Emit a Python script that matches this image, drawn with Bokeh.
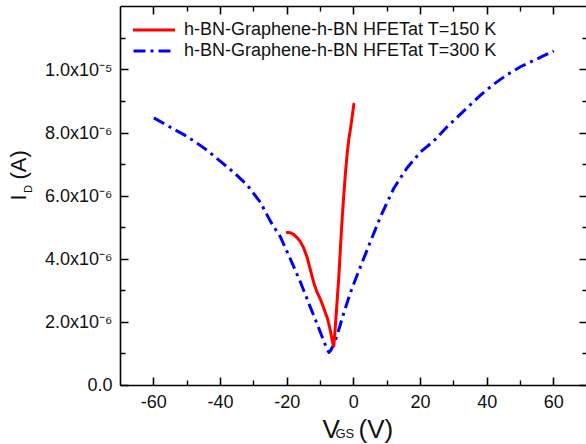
import math
from bokeh.plotting import figure
from bokeh.models import (Range1d, FixedTicker, LinearAxis, Legend, LegendItem,
                          Label, ColumnDataSource)
from bokeh.embed import file_html
from bokeh.resources import INLINE

# ---- data (V_GS in volts, I_D in units of 1e-6 A) ----
vgs_150 = [-20, -19, -18, -17, -16, -15, -14, -13, -12, -11, -10, -9, -8, -7.5,
           -7, -6.6, -6.3, -6.0, -5.5, -5.0, -4.5, -4.0, -3.5, -3.0, -2.5,
           -2.0, -1.5, -1.0, -0.5, 0.0]
id_150 = [4.85, 4.84, 4.78, 4.68, 4.55, 4.35, 4.06, 3.65, 3.25, 2.95, 2.72,
          2.45, 2.15, 1.95, 1.72, 1.5, 1.33, 1.25, 1.95, 2.7, 3.45, 4.4, 5.3,
          6.05, 6.75, 7.35, 7.8, 8.14, 8.52, 8.91]

vgs_300 = [-60, -57, -54, -51, -48, -44, -40, -36, -32, -28, -25, -22, -19,
           -16, -13.5, -11, -9, -8, -7.5, -7, -6, -5, -3, -1, 1, 4, 8, 12,
           16, 20, 24, 28, 33, 38, 42, 46, 50, 54, 57, 60]
id_300 = [8.48, 8.3, 8.12, 7.95, 7.75, 7.45, 7.1, 6.75, 6.35, 5.8, 5.2, 4.7,
          4.0, 3.27, 2.6, 1.95, 1.4, 1.15, 1.05, 1.1, 1.3, 1.6, 2.3, 2.95,
          3.5, 4.3, 5.35, 6.25, 6.9, 7.4, 7.75, 8.2, 8.7, 9.2, 9.55, 9.85,
          10.1, 10.3, 10.45, 10.6]

scale = 1e-6

x_ticks = [-60, -40, -20, 0, 20, 40, 60]
x_tick_labels = ["-60", "-40", "-20", "0", "20", "40", "60"]
x_bounds = [-70, 70]
y_ticks = [0.0, 2e-6, 4e-6, 6e-6, 8e-6, 1e-5]
y_bounds = [0.0, 1.2e-5]
y_tick_labels = ["0.0", "2.0x10\u207b\u2076", "4.0x10\u207b\u2076",
                 "6.0x10\u207b\u2076", "8.0x10\u207b\u2076", "1.0x10\u207b\u2075"]

legend_labels = ["h-BN-Graphene-h-BN HFETat T=150 K",
                 "h-BN-Graphene-h-BN HFETat T=300 K"]

FONT = "Liberation Sans"
TXT = "#111111"
W, H = 586, 444

x_minor = [(a + b) / 2 for a, b in zip(x_ticks[:-1], x_ticks[1:])]
y_step = y_ticks[1] - y_ticks[0]
y_minor = [(a + b) / 2 for a, b in zip(y_ticks[:-1], y_ticks[1:])] + [y_ticks[-1] + y_step / 2]

# frame covers the whole canvas; axes are drawn at fixed locations inside it
p = figure(width=W, height=H, output_backend="svg", toolbar_location=None,
           x_range=Range1d(-106.0, 69.8), y_range=Range1d(-1.87e-6, 1.220e-5),
           min_border=0)
p.xgrid.visible = False
p.ygrid.visible = False
p.outline_line_color = None
p.background_fill_color = "white"
p.border_fill_color = "white"

src150 = ColumnDataSource(dict(x=vgs_150, y=[v * scale for v in id_150]))
src300 = ColumnDataSource(dict(x=vgs_300, y=[v * scale for v in id_300]))

r300 = p.line("x", "y", source=src300, line_color="#0000ff", line_width=3,
              line_dash="12 5 3 5", line_join="round")
r150 = p.line("x", "y", source=src150, line_color="#ff0000", line_width=3,
              line_join="round", line_cap="round")

xt = FixedTicker(ticks=x_ticks, minor_ticks=x_minor)
yt = FixedTicker(ticks=y_ticks, minor_ticks=y_minor)


def style(ax, show_labels=True):
    ax.axis_line_color = "black"
    ax.axis_line_width = 1.6
    ax.major_tick_line_color = "black"
    ax.major_tick_line_width = 1.6
    ax.minor_tick_line_color = "black"
    ax.minor_tick_line_width = 1.4
    ax.major_tick_in = 8
    ax.major_tick_out = 0
    ax.minor_tick_in = 5
    ax.minor_tick_out = 0
    ax.major_label_text_font = FONT
    ax.major_label_text_color = TXT
    if show_labels:
        ax.major_label_text_font_size = "18px"
    else:
        ax.major_label_text_font_size = "0px"
        ax.major_label_standoff = 0
        ax.major_label_text_alpha = 0


xa = p.xaxis[0]
xa.ticker = xt
xa.fixed_location = y_bounds[0]
xa.bounds = tuple(x_bounds)
style(xa)
xa.major_label_standoff = 10
xa.major_label_overrides = dict(zip(x_ticks, x_tick_labels))

ya = p.yaxis[0]
ya.ticker = yt
ya.fixed_location = x_bounds[0]
ya.bounds = tuple(y_bounds)
style(ya)
ya.major_label_standoff = 8
ya.major_label_overrides = dict(zip(y_ticks, y_tick_labels))

top = LinearAxis(ticker=xt, fixed_location=y_bounds[1], bounds=tuple(x_bounds))
style(top, False)
p.add_layout(top, "above")
right = LinearAxis(ticker=yt, fixed_location=x_bounds[1], bounds=tuple(y_bounds))
style(right, False)
p.add_layout(right, "right")

legend = Legend(items=[LegendItem(label=legend_labels[0], renderers=[r150]),
                       LegendItem(label=legend_labels[1], renderers=[r300])],
                location=(133, H - 61), margin=0, padding=0, spacing=0,
                glyph_width=42, glyph_height=19, label_height=19,
                label_standoff=9, label_text_font=FONT,
                label_text_font_size="18px", label_text_color=TXT,
                border_line_alpha=0, background_fill_alpha=0)
p.add_layout(legend)


# axis titles with subscripts (screen units, origin at bottom-left)
def lab(text, x, y, size, angle=0.0):
    p.add_layout(Label(x=x, y=y, x_units="screen", y_units="screen", text=text,
                       text_font=FONT, text_font_size=size, text_color=TXT,
                       text_align="left", text_baseline="alphabetic",
                       angle=angle))


lab("V", 322, H - 428, "26px")
lab("GS", 335, H - 433, "13px")
lab("(V)", 358, H - 428, "26px")
lab("I", 18, H - 200, "22px", math.pi / 2)
lab("D", 27, H - 192.5, "11px", math.pi / 2)
lab("(A)", 18, H - 179, "22px", math.pi / 2)

open("out.html", "w").write(file_html(p, INLINE))
